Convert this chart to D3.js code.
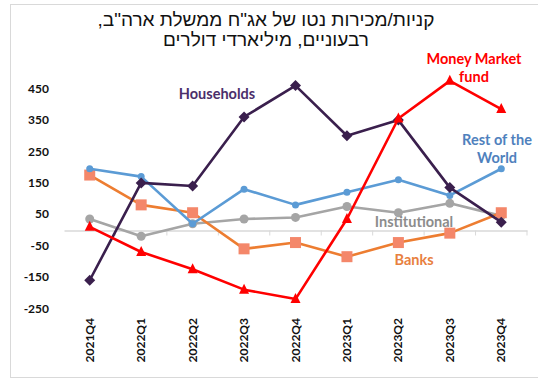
<!DOCTYPE html>
<html>
<head>
<meta charset="utf-8">
<script src="https://cdn.jsdelivr.net/npm/d3@7"></script>
<style>
  body { margin: 0; background: #fff; }
  svg text { font-family: "Lato", "Open Sans", sans-serif; }
</style>
</head>
<body>
<div id="chart"></div>
<script>
// נתונים
const quarters = ["2021Q4", "2022Q1", "2022Q2", "2022Q3", "2022Q4", "2023Q1", "2023Q2", "2023Q3", "2023Q4"];
const households = [-160, 150, 140, 360, 460, 300, 350, 135, 25];
const restOfWorld = [195, 170, 20, 130, 80, 120, 160, 110, 195];
const banks = [175, 80, 55, -60, -40, -85, -40, -10, 55];
const institutional = [35, -20, 20, 35, 40, 75, 55, 85, 45];
const moneyMarket = [10, -70, -125, -190, -220, 35, 355, 475, 385];
const yTicks = [450, 350, 250, 150, 50, -50, -150, -250];
const titleLines = ["קניות/מכירות נטו של אג\"ח ממשלת ארה\"ב,", "רבעוניים, מיליארדי דולרים"];

const W = 538, H = 380;
const svg = d3.select("#chart").append("svg")
  .attr("width", W)
  .attr("height", H);

// מסגרת
svg.append("rect")
  .attr("x", 10.5).attr("y", 4.5)
  .attr("width", 540).attr("height", 373)
  .attr("fill", "none")
  .attr("stroke", "#d9d9d9");

// כותרת
svg.append("g").selectAll("text")
  .data(titleLines)
  .enter().append("text")
  .attr("x", 266)
  .attr("y", (d, i) => 26 + i * 20)
  .attr("text-anchor", "middle")
  .attr("direction", "rtl")
  .style("font-family", "'Liberation Sans', 'DejaVu Sans', sans-serif")
  .style("font-size", "19px")
  .style("fill", "#111")
  .text(d => d);

const x = d3.scaleBand()
  .domain(quarters)
  .range([64, 527]);

const y = d3.scaleLinear()
  .domain([-250, 450])
  .range([308.5, 88.7]);

// ציר Y
svg.append("g").selectAll("text")
  .data(yTicks)
  .enter().append("text")
  .attr("x", 49)
  .attr("y", d => y(d) + 4)
  .attr("text-anchor", "end")
  .style("font-size", "12px")
  .style("font-weight", "bold")
  .style("fill", "#111")
  .text(d => d);

// קו אפס
const zeroAxis = svg.append("g")
  .attr("transform", `translate(0,${Math.round(y(0)) + 0.5})`)
  .call(d3.axisBottom(x).tickSizeOuter(0).tickSizeInner(0).tickFormat(""));
zeroAxis.select(".domain").attr("stroke", "#d9d9d9").attr("stroke-width", 1.5);
zeroAxis.selectAll(".tick").remove();
zeroAxis.selectAll(".sep")
  .data(quarters)
  .enter().append("line")
  .attr("x1", (d, i) => 64 + x.step() * (i + 1))
  .attr("x2", (d, i) => 64 + x.step() * (i + 1))
  .attr("y1", 0).attr("y2", 5)
  .attr("stroke", "#d9d9d9");

// תוויות ציר X
svg.append("g").selectAll("text")
  .data(quarters)
  .enter().append("text")
  .attr("transform", d => `translate(${x(d) + x.bandwidth() / 2 + 4},318) rotate(-90)`)
  .attr("text-anchor", "end")
  .style("font-size", "12px")
  .style("font-weight", "bold")
  .style("fill", "#111")
  .text(d => d);

const cx = d => x(d) + x.bandwidth() / 2;

const series = [
  {name: "institutional", values: institutional, color: "#a5a5a5", marker: "circle", mColor: "#a5a5a5", size: 4.5},
  {name: "banks", values: banks, color: "#ed7d31", marker: "square", mColor: "#f4876a", size: 5.5},
  {name: "row", values: restOfWorld, color: "#5b9bd5", marker: "circle", mColor: "#5b9bd5", size: 3.5},
  {name: "households", values: households, color: "#3a1f4d", marker: "diamond", mColor: "#3a1f4d", size: 5.5},
  {name: "mmf", values: moneyMarket, color: "#ff0000", marker: "triangle", mColor: "#ff0000", size: 5}
];

const line = d3.line()
  .x((d, i) => cx(quarters[i]))
  .y(d => y(d));

series.forEach(s => {
  const g = svg.append("g").attr("class", s.name);
  g.append("path")
    .datum(s.values)
    .attr("fill", "none")
    .attr("stroke", s.color)
    .attr("stroke-width", 2.6)
    .attr("stroke-linejoin", "round")
    .attr("d", line);

  g.selectAll(".pt")
    .data(s.values)
    .enter().append("g")
    .attr("transform", (d, i) => `translate(${cx(quarters[i])},${y(d)})`)
    .each(function () {
      const el = d3.select(this);
      const r = s.size;
      if (s.marker === "circle") {
        el.append("circle").attr("r", r).attr("fill", s.mColor);
      } else if (s.marker === "square") {
        el.append("rect").attr("x", -r).attr("y", -r).attr("width", 2 * r).attr("height", 2 * r).attr("fill", s.mColor);
      } else if (s.marker === "diamond") {
        el.append("path").attr("d", `M0,${-r}L${r},0L0,${r}L${-r},0Z`).attr("fill", s.mColor);
      } else {
        el.append("path").attr("d", `M0,${-r - 1}L${r},${r - 1}L${-r},${r - 1}Z`).attr("fill", s.mColor);
      }
    });
});

// תוויות סדרות
const labels = [
  {lines: ["Households"], x: 217, y: 99, color: "#4b2f6b"},
  {lines: ["Money Market", "fund"], x: 474, y: 64, color: "#ff0000"},
  {lines: ["Rest of the", "World"], x: 497, y: 145, color: "#4f81bd"},
  {lines: ["Institutional"], x: 414, y: 227, color: "#8c8c8c"},
  {lines: ["Banks"], x: 414, y: 265, color: "#e8803e"}
];
labels.forEach(l => {
  svg.append("text")
    .attr("x", l.x)
    .attr("y", l.y)
    .attr("text-anchor", "middle")
    .style("font-size", "14.5px")
    .style("font-weight", "bold")
    .style("fill", l.color)
    .selectAll("tspan")
    .data(l.lines)
    .enter().append("tspan")
    .attr("x", l.x)
    .attr("dy", (d, i) => i === 0 ? 0 : 18)
    .text(d => d);
});
</script>
</body>
</html>
